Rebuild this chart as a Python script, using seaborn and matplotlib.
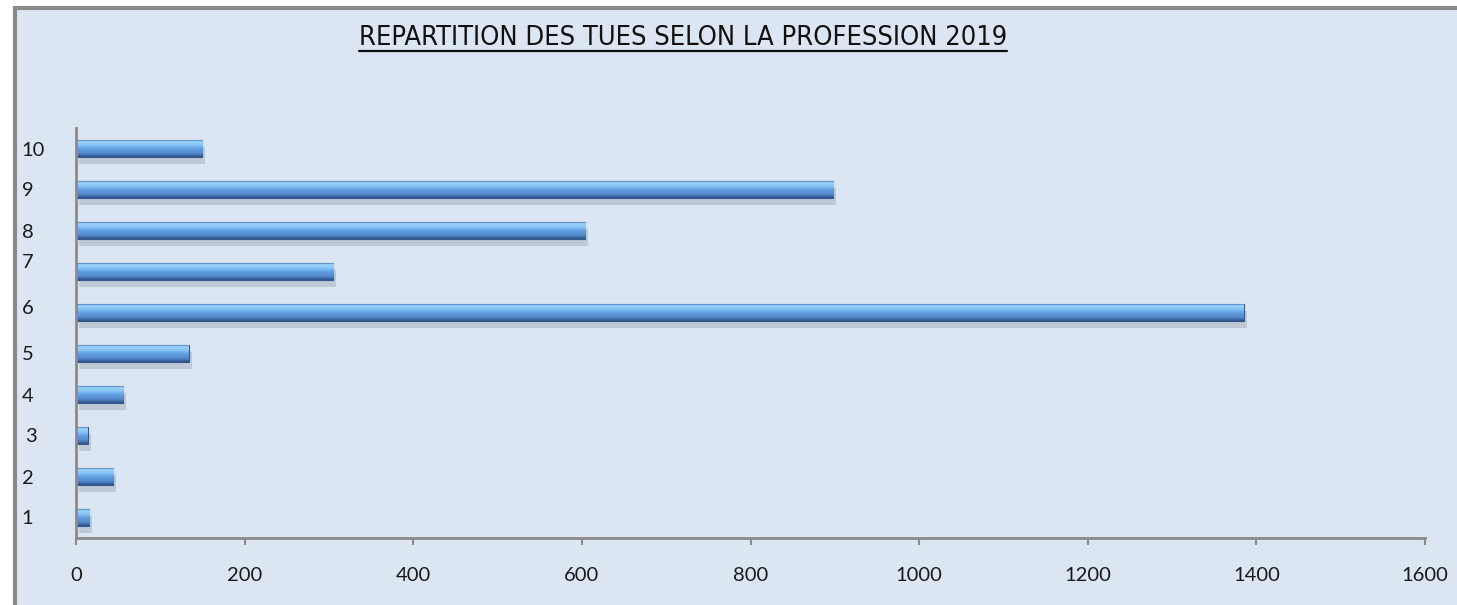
import numpy as np
import pandas as pd
import matplotlib
matplotlib.use('Agg')
import matplotlib.pyplot as plt
import matplotlib.patheffects as pe
from matplotlib.colors import LinearSegmentedColormap
from matplotlib.patches import Rectangle
from matplotlib.lines import Line2D
import matplotlib.transforms as mtransforms
import seaborn as sns

# --- donnees ---
professions = ['1', '2', '3', '4', '5', '6', '7', '8', '9', '10']
tues = [16, 44, 14, 56, 134, 1385, 305, 604, 898, 150]
x_ticks = [0, 200, 400, 600, 800, 1000, 1200, 1400, 1600]
titre = 'REPARTITION DES TUES SELON LA PROFESSION 2019'

df = pd.DataFrame({'profession': professions, 'tues': tues})

# --- style ---
sns.set_theme(style='white')
plt.rcParams['font.family'] = ['Lato', 'DejaVu Sans']
fond = '#dce6f2'
gris = '#8a8a8a'

fig = plt.figure(figsize=(14.57, 6.05), dpi=100, facecolor='white')

# fond + cadre du graphique
fig.patches.append(Rectangle((16 / 1457, 0), 1, 1 - 9 / 605, transform=fig.transFigure,
                             facecolor=fond, edgecolor='none', zorder=-10))
fig.lines.append(Line2D([14 / 1457, 1], [1 - 7.5 / 605] * 2, transform=fig.transFigure,
                        color=gris, lw=3, solid_capstyle='butt', zorder=-5))
fig.lines.append(Line2D([15 / 1457] * 2, [0, 1 - 6 / 605], transform=fig.transFigure,
                        color=gris, lw=3, solid_capstyle='butt', zorder=-5))

ax = fig.add_axes([76 / 1457, (605 - 538) / 605, (1425 - 76) / 1457, 410 / 605])
ax.set_facecolor(fond)

sns.barplot(data=df, x='tues', y='profession', order=professions[::-1], orient='h',
            color='#5b95d6', width=0.41, ax=ax, edgecolor='#34598e', linewidth=0.8)

ax.set_xlim(0, 1600)
ax.set_xticks(x_ticks)
xlim, ylim = ax.get_xlim(), ax.get_ylim()

# degrade bleu type "biseau" sur chaque barre
cmap = LinearSegmentedColormap.from_list('biseau', [
    (0.0, '#4a7cbd'), (0.08, '#9dd4fc'), (0.3, '#86c3f5'), (0.48, '#64a2e3'),
    (0.78, '#5389cc'), (0.9, '#3f6ca8'), (1.0, '#2d5186')])
grad = np.linspace(0, 1, 64).reshape(-1, 1)
for p in ax.patches:
    p.set_path_effects([pe.SimplePatchShadow(offset=(2, -5), shadow_rgbFace='#7f8893', alpha=0.3),
                        pe.Normal()])
    bb = p.get_bbox()
    im = ax.imshow(grad, cmap=cmap, aspect='auto', origin='upper', interpolation='bilinear',
                   extent=(bb.x0, bb.x1, max(bb.y0, bb.y1), min(bb.y0, bb.y1)), zorder=p.get_zorder() + 0.1)
    im.set_clip_path(p)
ax.set_xlim(xlim)
ax.set_ylim(ylim)

# axes
sns.despine(ax=ax, top=True, right=True)
for s in ['left', 'bottom']:
    ax.spines[s].set_color(gris)
    ax.spines[s].set_linewidth(2)
ax.set_xlabel('')
ax.set_ylabel('')
ax.tick_params(axis='x', bottom=True, length=5, width=1.5, color=gris, pad=16, labelsize=14.5, labelcolor='#1a1a1a')
ax.tick_params(axis='y', left=False, length=0, pad=39, labelsize=14.5, labelcolor='#1a1a1a')
for lab in ax.get_yticklabels():
    lab.set_horizontalalignment('left')
    if lab.get_text() == '7':
        lab.set_transform(lab.get_transform() + mtransforms.ScaledTranslation(0, 11 / 100, fig.dpi_scale_trans))
    if lab.get_text() == '6':
        lab.set_transform(lab.get_transform() + mtransforms.ScaledTranslation(0, 6 / 100, fig.dpi_scale_trans))
    if lab.get_text() == '3':
        lab.set_transform(lab.get_transform() + mtransforms.ScaledTranslation(3 / 100, 0, fig.dpi_scale_trans))

# titre souligne
t = fig.text(683 / 1457, 1 - 38 / 605, titre, ha='center', va='center', fontsize=19.5,
             family=['Liberation Sans Narrow', 'DejaVu Sans'], fontstretch='condensed', color='#111111')
fig.canvas.draw()
bb = t.get_window_extent().transformed(fig.transFigure.inverted())
fig.lines.append(Line2D([bb.x0, bb.x1], [1 - 51 / 605] * 2, transform=fig.transFigure,
                        color='#111111', lw=1.6))

fig.savefig('out.png', dpi=100, facecolor='white')
